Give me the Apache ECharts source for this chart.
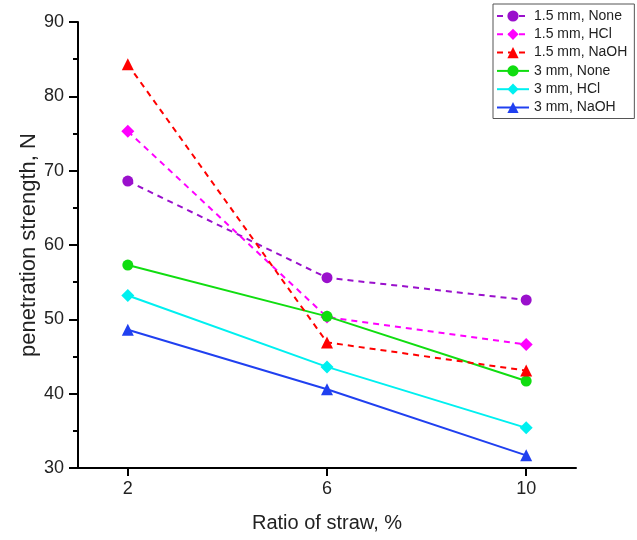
<!DOCTYPE html>
<html>
<head>
<meta charset="utf-8">
<script src="https://cdn.jsdelivr.net/npm/echarts@6/dist/echarts.min.js"></script>
<style>
html,body{margin:0;padding:0;background:#fff;}
#chart{width:637px;height:540px;}
</style>
</head>
<body>
<div id="chart"></div>
<script>
// Data
const strawRatio = [2, 6, 10];
const xTicks = [2, 6, 10];
const seriesNames = ['1.5 mm, None', '1.5 mm, HCl', '1.5 mm, NaOH', '3 mm, None', '3 mm, HCl', '3 mm, NaOH'];
const mm15None = [68.6, 55.6, 52.6];
const mm15HCl = [75.3, 50.3, 46.6];
const mm15NaOH = [84.3, 46.9, 43.1];
const mm3None = [57.3, 50.4, 41.7];
const mm3HCl = [53.2, 43.6, 35.4];
const mm3NaOH = [48.6, 40.6, 31.7];

const values = [mm15None, mm15HCl, mm15NaOH, mm3None, mm3HCl, mm3NaOH];
const colors = ['#9A10CC', '#FF00FF', '#FF0000', '#10DD10', '#00F0F0', '#2040F0'];
const symbols = ['circle', 'diamond', 'triangle', 'circle', 'diamond', 'triangle'];
const symbolSizes = [11, 13, 12, 11, 13, 12];
const dashed = [true, true, true, false, false, false];
const zOrder = [2, 3, 6, 5, 4, 4];

const font = 'Arial, "Liberation Sans", sans-serif';
const chart = echarts.init(document.getElementById('chart'), null, {renderer: 'canvas'});

const series = values.map((v, i) => ({
  name: seriesNames[i],
  type: 'line',
  data: strawRatio.map((x, j) => [x, v[j]]),
  symbol: symbols[i],
  symbolSize: symbolSizes[i],
  itemStyle: {color: colors[i]},
  lineStyle: {color: colors[i], width: 2, type: dashed[i] ? [6, 5] : 'solid'},
  z: zOrder[i]
}));

chart.setOption({
  animation: false,
  backgroundColor: '#fff',
  grid: {left: 78, right: 61, top: 22, bottom: 72, containLabel: false},
  xAxis: {
    type: 'value', min: 1, max: 11,
    name: 'Ratio of straw, %', nameLocation: 'middle', nameGap: 45,
    nameTextStyle: {fontSize: 20, color: '#222', fontFamily: font},
    axisLine: {onZero: false, lineStyle: {color: '#000', width: 2}},
    axisTick: {show: true, customValues: xTicks, length: 8, lineStyle: {color: '#000', width: 2}},
    axisLabel: {customValues: xTicks, fontSize: 18, color: '#222', fontFamily: font, margin: 12},
    splitLine: {show: false}
  },
  yAxis: {
    type: 'value', min: 30, max: 90, interval: 10,
    name: 'penetration strength, N', nameLocation: 'middle', nameGap: 38,
    nameMoveOverlap: false,
    nameTextStyle: {fontSize: 22, color: '#222', fontFamily: font},
    axisLine: {onZero: false, lineStyle: {color: '#000', width: 2}},
    axisTick: {show: true, length: 9, lineStyle: {color: '#000', width: 2}},
    minorTick: {show: true, splitNumber: 2, length: 5, lineStyle: {color: '#000', width: 2}},
    axisLabel: {fontSize: 18, color: '#222', fontFamily: font, margin: 14},
    splitLine: {show: false}
  },
  legend: {
    orient: 'vertical', left: 493, top: 4,
    data: seriesNames,
    borderColor: '#555', borderWidth: 1, borderRadius: 0,
    padding: [5, 7, 4, 3],
    itemWidth: 32, itemHeight: 14, itemGap: 4.3,
    textStyle: {fontSize: 14, color: '#222', fontFamily: font},
    backgroundColor: '#fff'
  },
  series: series
});
</script>
</body>
</html>
